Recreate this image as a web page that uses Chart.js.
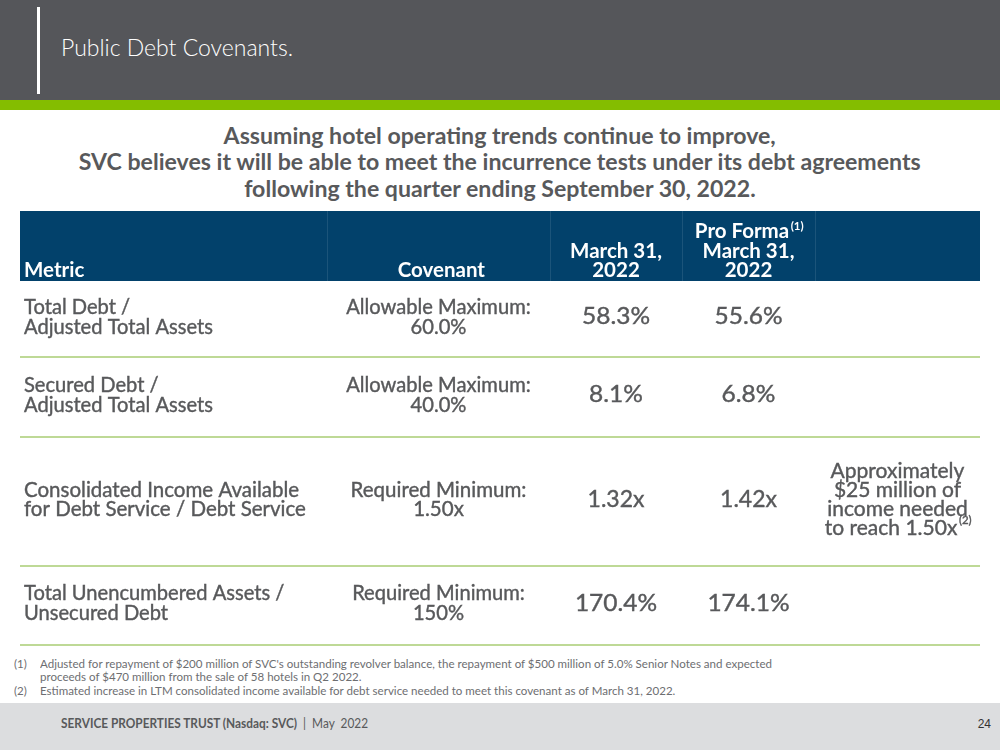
<!DOCTYPE html>
<html>
<head>
<meta charset="utf-8">
<style>
  body { margin: 0; width: 1000px; height: 750px; position: relative; overflow: hidden; background: #fff; font-family: Lato, "Open Sans", sans-serif; }
  .top { position: absolute; left: 0; top: 0; width: 1000px; height: 100px; background: #55565a; }
  .green { position: absolute; left: 0; top: 100px; width: 1000px; height: 10px; background: #84bd00; }
  .bar { position: absolute; left: 37px; top: 7px; width: 3px; height: 87px; background: #fff; }
  .title { position: absolute; left: 61px; top: 33px; color: #fff; font-size: 23px; font-weight: 300; white-space: nowrap; }
  .sub { position: absolute; left: 0; width: 1000px; height: 26px; line-height: 26px; text-align: center; color: #58595b; font-size: 22.5px; font-weight: 700; }
  .sub span { display: inline-block; white-space: nowrap; transform-origin: center; }
  .fn { position: absolute; left: 14px; color: #6d6e71; font-size: 11.5px; height: 14px; line-height: 14px; white-space: nowrap; }
  .fn span { display: inline-block; transform-origin: left; }
  .fn .num { position: absolute; left: 0; }
  .fn .body { position: absolute; left: 26px; }
  .foot { position: absolute; left: 0; top: 703px; width: 1000px; height: 47px; background: #dcdddf; }
  .foot .brand { position: absolute; left: 61px; top: 13px; font-size: 12.5px; line-height: 16px; color: #58595b; white-space: nowrap; transform-origin: left; }
  .foot .page { position: absolute; right: 9px; top: 13px; font-size: 12px; line-height: 16px; color: #333; font-family: "Liberation Sans", Arial, sans-serif; }
  #table { position: absolute; left: 0; top: 0; }
</style>
</head>
<body>
  <div class="top"></div>
  <div class="green"></div>
  <div class="bar"></div>
  <div class="title">Public Debt Covenants.</div>

  <div class="sub" style="top:123px"><span>Assuming hotel operating trends continue to improve,</span></div>
  <div class="sub" style="top:149px"><span id="subRef">SVC believes it will be able to meet the incurrence tests under its debt agreements</span></div>
  <div class="sub" style="top:176px"><span>following the quarter ending September 30, 2022.</span></div>

  <div class="fn" style="top:657px"><span class="num">(1)</span><span class="body" id="fnRef">Adjusted for repayment of $200 million of SVC's outstanding revolver balance, the repayment of $500 million of 5.0% Senior Notes and expected</span></div>
  <div class="fn" style="top:670px"><span class="body">proceeds of $470 million from the sale of 58 hotels in Q2 2022.</span></div>
  <div class="fn" style="top:684px"><span class="num">(2)</span><span class="body">Estimated increase in LTM consolidated income available for debt service needed to meet this covenant as of March 31, 2022.</span></div>

  <div class="foot">
    <div class="brand" id="brand"><b>SERVICE PROPERTIES TRUST (Nasdaq: SVC)</b> &nbsp;|&nbsp; May&nbsp; 2022</div>
    <div class="page">24</div>
  </div>

  <canvas id="table" width="1000" height="750"></canvas>

  <script src="https://cdn.jsdelivr.net/npm/chart.js"></script>
  <script>
    // 표 데이터
    const headerLabels = [['Metric'], ['Covenant'], ['March 31,', '2022'], ['Pro Forma', 'March 31,', '2022'], []];
    const headerMarks = ['', '', '', '(1)', ''];
    const metrics = [
      ['Total Debt /', 'Adjusted Total Assets'],
      ['Secured Debt /', 'Adjusted Total Assets'],
      ['Consolidated Income Available', 'for Debt Service / Debt Service'],
      ['Total Unencumbered Assets /', 'Unsecured Debt']
    ];
    const covenants = [
      ['Allowable Maximum:', '60.0%'],
      ['Allowable Maximum:', '40.0%'],
      ['Required Minimum:', '1.50x'],
      ['Required Minimum:', '150%']
    ];
    const march2022 = [58.3, 8.1, 1.32, 170.4];
    const proForma2022 = [55.6, 6.8, 1.42, 174.1];
    const valueUnits = ['%', '%', 'x', '%'];
    const valueDecimals = [1, 1, 2, 1];
    const notes = [[], [], ['Approximately', '$25 million of', 'income needed', 'to reach 1.50x'], []];
    const noteMarks = ['', '', '(2)', ''];

    // 레이아웃 (표 좌표 단위)
    const colEdges = [0, 307, 530, 662, 795, 960];
    const rowEdges = [0, 70, 146, 226, 355, 434];
    const condensedRows = [true, true, false, true];

    // 좁은 글꼴 흉내 : 가로 스케일
    function fitScale(el, target) {
      const w = el.getBoundingClientRect().width;
      return target / w;
    }
    const subSx = fitScale(document.getElementById('subRef'), 842);
    document.querySelectorAll('.sub span').forEach(s => { s.style.transform = 'scaleX(' + subSx + ')'; });
    const fnSx = fitScale(document.getElementById('fnRef'), 732);
    document.querySelectorAll('.fn span').forEach(s => { s.style.transform = 'scaleX(' + fnSx + ')'; });
    const brand = document.getElementById('brand');
    brand.style.transform = 'scaleX(' + fitScale(brand, 307) + ')';

    function txt(ctx, s, x, y, align, sx, heavy) {
      ctx.save();
      ctx.translate(x, y);
      ctx.scale(sx, 1);
      ctx.textAlign = align;
      ctx.fillText(s, 0, 0);
      if (heavy) {
        ctx.lineWidth = 0.4;
        ctx.strokeStyle = ctx.fillStyle;
        ctx.strokeText(s, 0, 0);
      }
      ctx.restore();
    }

    function txtSup(ctx, s, sup, cx, y, font, supFont, sx, heavy) {
      ctx.font = font;
      const w1 = ctx.measureText(s).width * sx;
      ctx.font = supFont;
      const w2 = ctx.measureText(sup).width * sx;
      const x0 = cx - (w1 + w2) / 2;
      ctx.font = font;
      txt(ctx, s, x0, y, 'left', sx, heavy);
      ctx.font = supFont;
      txt(ctx, sup, x0 + w1 + 1.5, y - 8, 'left', sx, heavy);
    }

    const tablePlugin = {
      id: 'tablePlugin',
      afterDraw(chart) {
        const ctx = chart.ctx;
        const xs = chart.scales.x, ys = chart.scales.y;
        const X = v => xs.getPixelForValue(v);
        const Y = v => ys.getPixelForValue(v);
        const colMid = i => X((colEdges[i] + colEdges[i + 1]) / 2);
        const rowMid = i => Y((rowEdges[i + 1] + rowEdges[i + 2]) / 2);

        const bodyFont = '400 20.5px Lato, "Open Sans", sans-serif';
        const valFont = '400 23px Lato, "Open Sans", sans-serif';
        const noteFont = '400 21px Lato, "Open Sans", sans-serif';
        const supFont = '400 11.5px Lato, "Open Sans", sans-serif';
        ctx.font = bodyFont;
        const cond = 189 / ctx.measureText('Adjusted Total Assets').width;
        ctx.font = valFont;
        const valCond = 68 / ctx.measureText('58.3%').width;

        ctx.save();
        // 헤더 배경
        ctx.fillStyle = '#02416b';
        ctx.fillRect(X(colEdges[0]), Y(rowEdges[0]), X(colEdges[5]) - X(colEdges[0]), Y(rowEdges[1]) - Y(rowEdges[0]));
        ctx.strokeStyle = 'rgba(255,255,255,0.10)';
        ctx.lineWidth = 1;
        for (let i = 1; i < colEdges.length - 1; i++) {
          ctx.beginPath();
          ctx.moveTo(Math.round(X(colEdges[i])) + 0.5, Y(rowEdges[0]));
          ctx.lineTo(Math.round(X(colEdges[i])) + 0.5, Y(rowEdges[1]));
          ctx.stroke();
        }

        // 헤더 텍스트
        const hFont = '700 20.5px Lato, "Open Sans", sans-serif';
        const hSup = '700 11.5px Lato, "Open Sans", sans-serif';
        ctx.fillStyle = '#ffffff';
        ctx.textBaseline = 'alphabetic';
        const hBase = Y(rowEdges[1]) - 4;
        headerLabels.forEach((lines, c) => {
          lines.forEach((s, k) => {
            const y = hBase - (lines.length - 1 - k) * 19.5;
            ctx.font = hFont;
            if (c === 0) txt(ctx, s, X(colEdges[0] + 4), y, 'left', 1);
            else if (c === 1) txt(ctx, s, X(colEdges[2] - 65), y, 'right', 1);
            else if (k === 0 && headerMarks[c]) txtSup(ctx, s, headerMarks[c], colMid(c), y, hFont, hSup, 1);
            else txt(ctx, s, colMid(c), y, 'center', 1);
          });
        });

        // 행 구분선
        ctx.strokeStyle = '#a9cd73';
        ctx.lineWidth = 1.5;
        for (let r = 2; r < rowEdges.length; r++) {
          ctx.beginPath();
          ctx.moveTo(X(colEdges[0]), Y(rowEdges[r]));
          ctx.lineTo(X(colEdges[5]), Y(rowEdges[r]));
          ctx.stroke();
        }

        // 본문
        ctx.fillStyle = '#58595b';
        ctx.textBaseline = 'middle';
        metrics.forEach((m, r) => {
          const sx = condensedRows[r] ? cond : 1;
          const vsx = condensedRows[r] ? valCond : 1;
          const cy = rowMid(r) - 2;
          const lh = condensedRows[r] ? 20 : 19;
          ctx.font = bodyFont;
          m.forEach((s, k) => txt(ctx, s, X(colEdges[0] + 4), cy + (k - (m.length - 1) / 2) * lh, 'left', sx, true));
          covenants[r].forEach((s, k) => txt(ctx, s, colMid(1), cy + (k - (covenants[r].length - 1) / 2) * lh, 'center', sx, true));
          ctx.font = valFont;
          const fmt = v => v.toFixed(valueDecimals[r]) + valueUnits[r];
          txt(ctx, fmt(march2022[r]), colMid(2), cy, 'center', vsx, true);
          txt(ctx, fmt(proForma2022[r]), colMid(3), cy, 'center', vsx, true);
          const n = notes[r];
          n.forEach((s, k) => {
            const y = cy + (k - (n.length - 1) / 2) * 19;
            if (k === n.length - 1 && noteMarks[r]) txtSup(ctx, s, noteMarks[r], colMid(4), y, noteFont, supFont, 1, true);
            else { ctx.font = noteFont; txt(ctx, s, colMid(4), y, 'center', 1, true); }
          });
        });
        ctx.restore();
      }
    };

    new Chart(document.getElementById('table'), {
      type: 'scatter',
      data: { datasets: [] },
      options: {
        responsive: false,
        animation: false,
        events: [],
        layout: { padding: { left: 20, right: 20, top: 211, bottom: 105 } },
        plugins: { legend: { display: false }, tooltip: { enabled: false } },
        scales: {
          x: { type: 'linear', min: 0, max: 960, display: false },
          y: { type: 'linear', min: 0, max: 434, reverse: true, display: false }
        }
      },
      plugins: [tablePlugin]
    });
  </script>
</body>
</html>
